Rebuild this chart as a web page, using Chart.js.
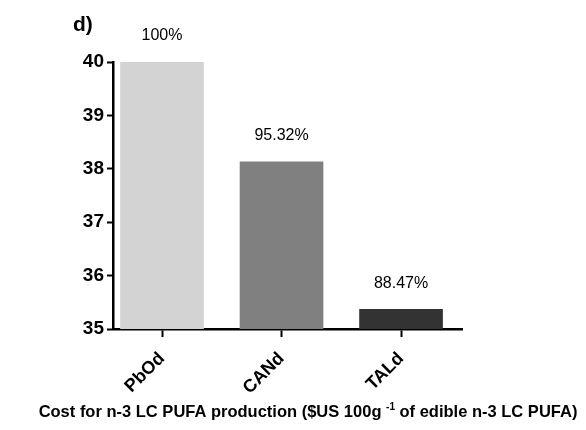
<!DOCTYPE html>
<html>
<head>
<meta charset="utf-8">
<script src="https://cdn.jsdelivr.net/npm/chart.js@4"></script>
<style>
html, body { margin: 0; padding: 0; background: #fff; }
#wrap { width: 586px; height: 430px; }
</style>
</head>
<body>
<div id="wrap"><canvas id="chart"></canvas></div>
<script>
const categories = ['PbOd', 'CANd', 'TALd'];
const costValues = [40, 38.13, 35.37];
const percentLabels = ['100%', '95.32%', '88.47%'];
const yTicks = [35, 36, 37, 38, 39, 40];
const barColors = ['#d3d3d3', '#808080', '#333333'];

const FONT = 'Arial, "Liberation Sans", sans-serif';

const annotate = {
    id: 'annotate',
    afterDatasetsDraw(chart) {
        const ctx = chart.ctx;
        const meta = chart.getDatasetMeta(0);
        ctx.save();
        ctx.fillStyle = '#000';
        ctx.font = '16px ' + FONT;
        ctx.textAlign = 'center';
        ctx.textBaseline = 'middle';
        meta.data.forEach((bar, i) => {
            ctx.fillText(percentLabels[i], bar.x, bar.y - 26);
        });
        ctx.restore();
    },
    afterDraw(chart) {
        const ctx = chart.ctx;
        ctx.save();
        ctx.fillStyle = '#000';
        ctx.textBaseline = 'alphabetic';
        ctx.textAlign = 'left';
        ctx.font = 'bold 21px ' + FONT;
        ctx.fillText('d)', 73, 31);

        // x axis title with superscript
        const parts = [
            { t: 'Cost for n-3 LC PUFA production ($US 100g ', f: 'bold 16.5px ' + FONT, dy: 0 },
            { t: '-1', f: 'bold 10px ' + FONT, dy: -7 },
            { t: ' of edible n-3 LC PUFA)', f: 'bold 16.5px ' + FONT, dy: 0 }
        ];
        let total = 0;
        parts.forEach(p => { ctx.font = p.f; p.w = ctx.measureText(p.t).width; total += p.w; });
        let x = 308 - total / 2;
        parts.forEach(p => {
            ctx.font = p.f;
            ctx.fillText(p.t, x, 417 + p.dy);
            x += p.w;
        });
        ctx.restore();
    }
};

new Chart(document.getElementById('chart'), {
    type: 'bar',
    data: {
        datasets: [{
            data: costValues.map((v, i) => ({ x: i, y: v })),
            backgroundColor: barColors,
            borderWidth: 0,
            barThickness: 83
        }]
    },
    options: {
        responsive: true,
        maintainAspectRatio: false,
        animation: false,
        layout: { padding: { left: 0, right: 124, top: 62, bottom: 0 } },
        plugins: {
            legend: { display: false },
            tooltip: { enabled: false }
        },
        scales: {
            x: {
                type: 'linear',
                min: -0.41,
                max: 2.51,
                offset: false,
                afterBuildTicks: s => {
                    s.ticks = categories.map((c, i) => ({ value: i }));
                },
                afterFit: s => { s.height = 101; },
                border: { display: true, color: '#000', width: 2.5 },
                grid: {
                    display: true,
                    offset: false,
                    drawOnChartArea: false,
                    drawTicks: true,
                    tickLength: 8,
                    tickColor: '#000',
                    tickWidth: 2
                },
                ticks: {
                    color: '#000',
                    font: { family: FONT, size: 18, weight: 'bold' },
                    minRotation: 45,
                    maxRotation: 45,
                    padding: 11,
                    callback: v => categories[v]
                }
            },
            y: {
                min: 35,
                max: 40,
                afterBuildTicks: s => {
                    s.ticks = yTicks.map(v => ({ value: v }));
                },
                afterFit: s => { s.width = 113; },
                border: { display: true, color: '#000', width: 2.5 },
                grid: {
                    display: true,
                    drawOnChartArea: false,
                    drawTicks: true,
                    tickLength: 6,
                    tickColor: '#000',
                    tickWidth: 2
                },
                ticks: {
                    color: '#000',
                    font: { family: FONT, size: 19, weight: 'bold' },
                    padding: 3
                }
            }
        }
    },
    plugins: [annotate]
});
</script>
</body>
</html>
